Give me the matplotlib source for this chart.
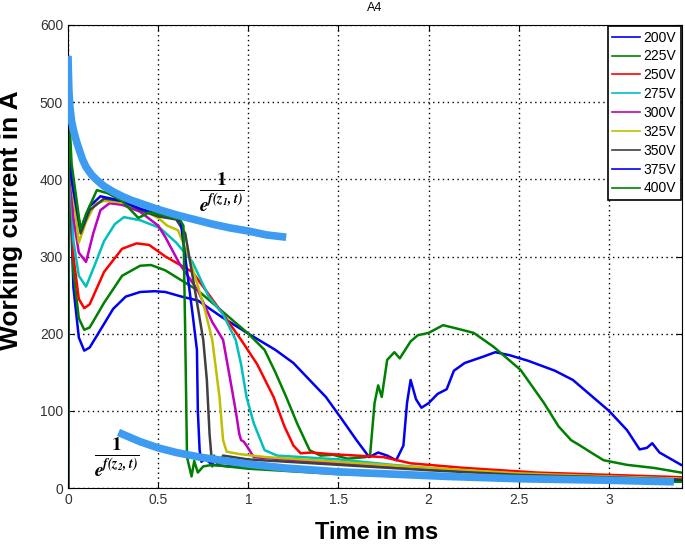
import matplotlib.pyplot as plt
from matplotlib.mathtext import MathTextParser

plt.rcParams['font.family'] = ['Liberation Sans', 'DejaVu Sans']
plt.rcParams['mathtext.fontset'] = 'stix'

# measured traces, time in ms / current in A
t_200 = [0, 0.005, 0.01, 0.03, 0.06, 0.09, 0.12, 0.18, 0.25, 0.32, 0.4, 0.48, 0.54, 0.63, 0.72, 0.85,
         1.0, 1.15, 1.25, 1.36, 1.43, 1.51, 1.6, 1.67, 1.72, 1.77, 1.82, 1.86, 1.88, 1.9, 1.93, 1.96,
         2.0, 2.05, 2.1, 2.14, 2.2, 2.3, 2.37, 2.45, 2.55, 2.7, 2.8, 2.9, 3.0, 3.1, 3.17, 3.21, 3.24,
         3.28, 3.34, 3.4]
i_200 = [0, 470, 400, 260, 195, 178, 182, 205, 232, 248, 254, 255, 254, 248, 243, 222,
         200, 179, 162, 135, 118, 92, 62, 40, 46, 42, 36, 55, 110, 140, 115, 104,
         110, 122, 128, 152, 162, 170, 176, 172, 165, 152, 140, 120, 100, 75, 50, 52, 58,
         46, 38, 30]

t_225 = [0, 0.005, 0.01, 0.03, 0.06, 0.09, 0.12, 0.2, 0.3, 0.4, 0.46, 0.54, 0.72, 0.85, 1.0, 1.09,
         1.15, 1.21, 1.27, 1.34, 1.4, 1.47, 1.55, 1.65, 1.675, 1.70, 1.72, 1.74, 1.77, 1.81, 1.84,
         1.9, 1.94, 2.0, 2.08, 2.15, 2.25, 2.36, 2.51, 2.64, 2.72, 2.79, 2.84, 2.88, 2.97, 3.1, 3.25, 3.4]
i_225 = [0, 470, 410, 280, 220, 205, 208, 240, 275, 288, 289, 282, 256, 230, 200, 179,
         150, 118, 84, 49, 42, 43, 38, 40, 42, 110, 133, 118, 166, 176, 168,
         190, 198, 201, 211, 207, 201, 183, 153, 110, 80, 62, 55, 49, 36, 30, 26, 20]

t_250 = [0, 0.005, 0.01, 0.03, 0.06, 0.09, 0.12, 0.2, 0.3, 0.38, 0.45, 0.54, 0.69, 0.87, 0.96, 1.05,
         1.14, 1.2, 1.25, 1.29, 1.35, 1.45, 1.6, 1.75, 1.9, 2.2, 2.6, 3.0, 3.4]
i_250 = [0, 470, 420, 300, 245, 233, 238, 280, 310, 317, 315, 300, 280, 222, 192, 160,
         118, 80, 55, 45, 46, 44, 42, 40, 32, 26, 20, 17, 14]

t_275 = [0, 0.005, 0.01, 0.03, 0.06, 0.1, 0.15, 0.2, 0.26, 0.31, 0.4, 0.51, 0.6, 0.69, 0.78, 0.86,
         0.93, 0.96, 0.99, 1.03, 1.09, 1.16, 1.3, 1.5, 1.8, 2.2, 2.6, 3.0, 3.4]
i_275 = [0, 470, 420, 320, 275, 261, 290, 320, 342, 351, 347, 337, 318, 293, 248, 225,
         192, 160, 118, 84, 49, 42, 40, 37, 30, 22, 17, 14, 12]

t_300 = [0, 0.005, 0.01, 0.03, 0.06, 0.1, 0.14, 0.18, 0.23, 0.3, 0.4, 0.5, 0.54, 0.62, 0.72, 0.8,
         0.86, 0.87, 0.9, 0.93, 0.95, 0.96, 0.975, 0.99, 1.03, 1.2, 1.5, 2.0, 2.5, 3.0, 3.4]
i_300 = [0, 470, 430, 350, 305, 293, 330, 360, 369, 367, 358, 340, 325, 290, 256, 215,
         192, 179, 140, 100, 70, 62, 60, 55, 40, 37, 32, 25, 18, 14, 11]

t_325 = [0, 0.005, 0.02, 0.06, 0.1, 0.15, 0.2, 0.3, 0.4, 0.5, 0.55, 0.61, 0.67, 0.72, 0.76, 0.8,
         0.84, 0.86, 0.88, 0.95, 1.1, 1.5, 2.0, 2.5, 3.0, 3.4]
i_325 = [0, 470, 400, 318, 345, 368, 372, 370, 362, 350, 340, 334, 300, 262, 230, 192,
         118, 62, 47, 44, 40, 34, 26, 19, 15, 12]

t_350 = [0, 0.005, 0.02, 0.07, 0.12, 0.2, 0.3, 0.4, 0.5, 0.6, 0.65, 0.7, 0.75, 0.77, 0.785, 0.8,
         0.81, 0.83, 0.86, 1.0, 1.5, 2.0, 2.5, 3.0, 3.4]
i_350 = [0, 470, 400, 330, 360, 375, 372, 360, 352, 348, 330, 262, 192, 140, 70, 28,
         42, 30, 42, 37, 30, 23, 17, 14, 11]

t_375 = [0, 0.005, 0.02, 0.07, 0.12, 0.18, 0.3, 0.4, 0.5, 0.6, 0.625, 0.69, 0.715, 0.72, 0.73, 0.74,
         0.76, 0.8, 0.9, 1.2, 1.6, 2.0, 2.5, 3.0, 3.4]
i_375 = [0, 470, 400, 335, 365, 378, 372, 362, 355, 350, 345, 227, 179, 100, 49, 34,
         38, 30, 28, 27, 22, 17, 13, 11, 9]

t_400 = [0, 0.005, 0.02, 0.07, 0.1, 0.16, 0.22, 0.3, 0.39, 0.45, 0.55, 0.62, 0.64, 0.65, 0.66, 0.685,
         0.7, 0.72, 0.75, 0.8, 1.0, 1.5, 2.0, 2.5, 3.0, 3.4]
i_400 = [0, 490, 420, 335, 355, 386, 382, 372, 350, 357, 352, 348, 340, 200, 40, 15,
         35, 20, 28, 30, 25, 18, 14, 11, 9, 8]

# fitted envelopes drawn over the traces
t_fit1 = [0.0, 0.002, 0.005, 0.01, 0.02, 0.03, 0.04, 0.05, 0.06, 0.08, 0.1, 0.13, 0.16, 0.2, 0.25,
          0.3, 0.35, 0.4, 0.5, 0.6, 0.7, 0.8, 0.9, 1.0, 1.1, 1.21]
i_fit1 = [560, 540, 515, 495, 475, 464, 455, 447, 440, 426, 416, 406, 399, 391, 384,
          378, 373, 369, 361, 354, 348, 342, 337, 333, 328, 325]
t_fit2 = [0.28, 0.35, 0.4, 0.5, 0.6, 0.73, 0.85, 1.0, 1.2, 1.5, 1.8, 2.1, 2.5, 3.0, 3.36]
i_fit2 = [72, 65, 60, 52, 46, 40, 36, 31, 26, 21, 18, 15, 12, 10, 8]

series = [(t_200, i_200), (t_225, i_225), (t_250, i_250), (t_275, i_275), (t_300, i_300),
          (t_325, i_325), (t_350, i_350), (t_375, i_375), (t_400, i_400)]
labels = ['200V', '225V', '250V', '275V', '300V', '325V', '350V', '375V', '400V']
colors = [(0, 0, 0.95), (0, 0.5, 0), (1, 0, 0), (0, 0.75, 0.75), (0.75, 0, 0.75),
          (0.75, 0.75, 0), (0.25, 0.25, 0.25), (0, 0, 0.95), (0, 0.5, 0)]

# bold italic denominator if this mathtext knows \mathbfit
den = r'\mathbfit{e^{f(z_%d,t)}}'
try:
    MathTextParser('path').parse(r'$' + den % 1 + r'$')
except Exception:
    den = r'e^{f(z_%d,t)}'

fig = plt.figure(figsize=(6.85, 5.44), dpi=100)
ax = fig.add_axes([68 / 685, 1 - 488 / 544, 614 / 685, 463 / 544])

for (t, i), lab, c in zip(series, labels, colors):
    ax.plot(t, i, color=c, lw=1.8, label=lab)

ax.plot(t_fit1, i_fit1, color='#3d9cf2', lw=5.5, solid_capstyle='butt', zorder=5)
ax.plot(t_fit2, i_fit2, color='#3d9cf2', lw=5.5, solid_capstyle='butt', zorder=5)

ax.text(0.853, 383, r'$\frac{\mathbf{1}}{' + den % 1 + '}$', fontsize=20, ha='center', va='center')
ax.text(0.27, 40, r'$\frac{\mathbf{1}}{' + den % 2 + '}$', fontsize=20, ha='center', va='center')

ax.set_xlim(0, 3.405)
ax.set_ylim(0, 600)
ax.set_xticks([0, 0.5, 1, 1.5, 2, 2.5, 3])
ax.set_xticklabels(['0', '0.5', '1', '1.5', '2', '2.5', '3'])
ax.set_yticks([0, 100, 200, 300, 400, 500, 600])
ax.tick_params(direction='in', top=True, right=True, labelsize=10, labelcolor='#333333', length=4)
ax.grid(True, color='k', linestyle=(0, (1, 2.5)), lw=1.0)

ax.set_title('A4', fontsize=9, pad=10)
ax.set_xlabel('Time in ms', fontsize=17, fontweight='bold')
ax.set_ylabel('Working current in A', fontsize=19, fontweight='bold')
ax.xaxis.set_label_coords(0.502, -0.071)
ax.yaxis.set_label_coords(-0.073, 0.579)

leg = ax.legend(loc='upper right', fontsize=10, handlelength=2.0, handletextpad=0.3,
                labelspacing=0.35, borderaxespad=0.1, fancybox=False, framealpha=1,
                borderpad=0.3)
leg.get_frame().set_edgecolor('k')
leg.get_frame().set_linewidth(1.2)
leg.set_zorder(10)
for h in leg.get_lines():
    h.set_linewidth(1.2)

fig.savefig('out.png', dpi=100)
